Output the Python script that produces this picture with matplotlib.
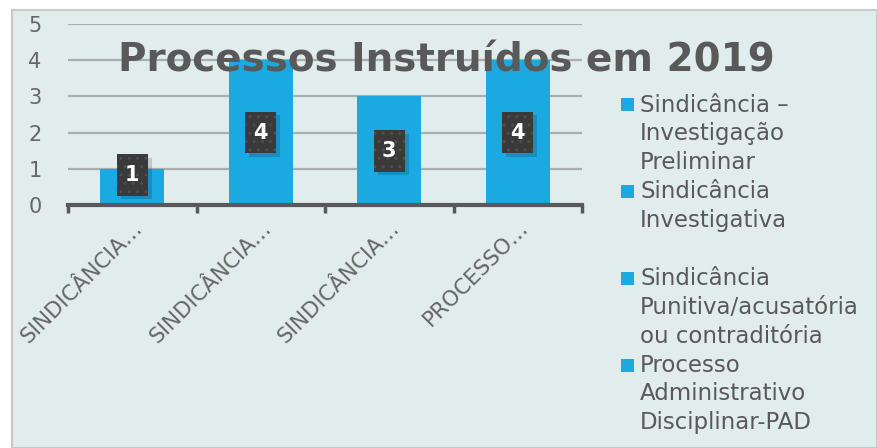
import matplotlib.pyplot as plt
from matplotlib.patches import Rectangle

# dados
categorias = ['SINDICÂNCIA…', 'SINDICÂNCIA…', 'SINDICÂNCIA…', 'PROCESSO…']
valores = [1, 4, 3, 4]
legenda = ['Sindicância –\nInvestigação\nPreliminar',
           'Sindicância\nInvestigativa\n',
           'Sindicância\nPunitiva/acusatória\nou contraditória',
           'Processo\nAdministrativo\nDisciplinar-PAD']
titulo = 'Processos Instruídos em 2019'

AZUL = '#1aa9e0'
CINZA = '#595959'
FUNDO = '#e1ecec'
W, H = 877, 448

plt.rcParams['font.family'] = ['DejaVu Sans']

fig = plt.figure(figsize=(W / 100, H / 100), dpi=100)
fig.patch.set_facecolor('white')

# painel de fundo
painel = Rectangle((12 / W, 0), 1 - 12 / W, 1 - 10 / H, transform=fig.transFigure,
                   facecolor=FUNDO, edgecolor='#c8c8c8', linewidth=1.5, zorder=-10)
fig.patches.append(painel)

ax = fig.add_axes([68 / W, 1 - 205 / H, (582 - 68) / W, (205 - 24) / H])
ax.set_facecolor('none')

x = list(range(len(valores)))
barras = ax.bar(x, valores, width=0.5, color=AZUL, zorder=2)

ax.set_xlim(-0.5, len(valores) - 0.5)
ax.set_ylim(0, 5)
ax.set_yticks(range(0, 6))
ax.grid(axis='y', color='#a9adad', linewidth=1.6, zorder=0)
ax.set_axisbelow(True)

for s in ['top', 'right', 'left']:
    ax.spines[s].set_visible(False)
ax.spines['bottom'].set_color(CINZA)
ax.spines['bottom'].set_linewidth(3)
ax.spines['bottom'].set_zorder(3)

ax.tick_params(axis='y', length=0, pad=19, labelsize=15, labelcolor='#666666')
ax.set_xticks(x)
ax.set_xticklabels(categorias, rotation=45, ha='right', va='top', rotation_mode='anchor',
                   fontsize=15.5, color='#666666')
ax.tick_params(axis='x', which='major', length=0, pad=9)
ax.set_xticks([i - 0.5 for i in range(len(valores) + 1)], minor=True)
ax.tick_params(axis='x', which='minor', length=6, width=2.5, color=CINZA)

# rótulos dos dados
for i, v in enumerate(valores):
    yc = max(v / 2, 0.83)
    w, h = 0.24, 1.15
    sombra = Rectangle((i - w / 2 + 0.03, yc - h / 2 - 0.1), w, h, facecolor='black',
                       alpha=0.15, edgecolor='none', zorder=3)
    ax.add_patch(sombra)
    caixa = Rectangle((i - w / 2, yc - h / 2), w, h, facecolor='#3a3a3a', edgecolor='#4e4e4e',
                      linewidth=0, hatch='..', zorder=4)
    ax.add_patch(caixa)
    ax.text(i, yc, str(v), ha='center', va='center', color='white', fontsize=15,
            fontweight='bold', zorder=5)

# título
fig.text(446 / W, 1 - 60 / H, titulo, ha='center', va='center', fontsize=28,
         fontweight='bold', color=CINZA)

# legenda (desenhada à mão, linha a linha)
passo = 28.9
linha = 0
for barra, rotulo in zip(barras, legenda):
    linhas = rotulo.split('\n')
    y0 = 105 + linha * passo
    fig.patches.append(Rectangle((621 / W, 1 - (y0 + 6.5) / H), 13 / W, 13 / H,
                                 transform=fig.transFigure, facecolor=barra.get_facecolor(),
                                 edgecolor='none'))
    for k, txt in enumerate(linhas):
        if txt:
            fig.text(640 / W, 1 - (y0 + k * passo) / H, txt, ha='left', va='center',
                     fontsize=16.5, color=CINZA)
    linha += len(linhas)

fig.savefig('out.png', dpi=100, facecolor=fig.get_facecolor())
